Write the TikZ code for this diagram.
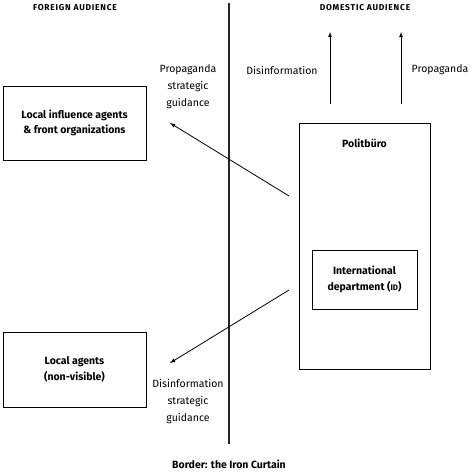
\documentclass[tikz,border=0pt]{standalone}
\usepackage{fontspec}
\setmainfont{Fira Sans}
\usetikzlibrary{arrows}

\begin{document}
\begin{tikzpicture}[x=1pt,y=-1pt,
  box/.style={draw, line width=0.9pt, align=center, font=\bfseries\fontsize{10.5}{15.5}\selectfont, inner sep=0pt},
  lbl/.style={align=center, font=\fontsize{10.5}{17}\selectfont},
  head/.style={font=\bfseries\fontsize{8.5}{9}\selectfont\addfontfeatures{LetterSpace=9}}]
\useasboundingbox (0,0) rectangle (474,474);
\node[box, minimum width=143, minimum height=74] (v1) at (74.5,123) {Local influence agents\\\& front organizations};
\node[box, minimum width=143, minimum height=75] (v2) at (74.5,369.5) {Local agents\\(non-visible)};
\node[box, minimum width=131, minimum height=246] (v3) at (364.5,246) {};
\node[font=\bfseries\fontsize{10.5}{11}\selectfont] (v4) at (364.5,143) {Politbüro};
\node[box, minimum width=105, minimum height=59] (v5) at (364.5,279.5) {International\\department ({\fontsize{8}{8}\selectfont ID})};
\node[head] (h1) at (75,8) {FOREIGN AUDIENCE};
\node[head] (h2) at (365,8) {DOMESTIC AUDIENCE};
\node[lbl] (t1) at (188,87) {Propaganda\\strategic\\guidance};
\node[lbl] (t2) at (188,402) {Disinformation\\strategic\\guidance};
\node[lbl] (t3) at (282,70) {Disinformation};
\node[lbl] (t4) at (440,70) {Propaganda};
\node[font=\bfseries\fontsize{10.5}{11}\selectfont] (t5) at (229,464) {Border: the Iron Curtain};
\coordinate (b1) at (229,3);
\coordinate (b2) at (229,444);
\coordinate (a1) at (289,196);
\coordinate (a2) at (170,123);
\coordinate (a3) at (289,290);
\coordinate (a4) at (170,363);
\coordinate (u1) at (330,104);
\coordinate (u2) at (330,32);
\coordinate (u3) at (401,104);
\coordinate (u4) at (401,32);
\draw[line width=1.3pt, black!85] (b1) -- (b2);
\draw[line width=0.8pt, -latex] (a1) -- (a2);
\draw[line width=0.8pt, -latex] (a3) -- (a4);
\draw[line width=0.8pt, -latex] (u1) -- (u2);
\draw[line width=0.8pt, -latex] (u3) -- (u4);
\end{tikzpicture}
\end{document}
